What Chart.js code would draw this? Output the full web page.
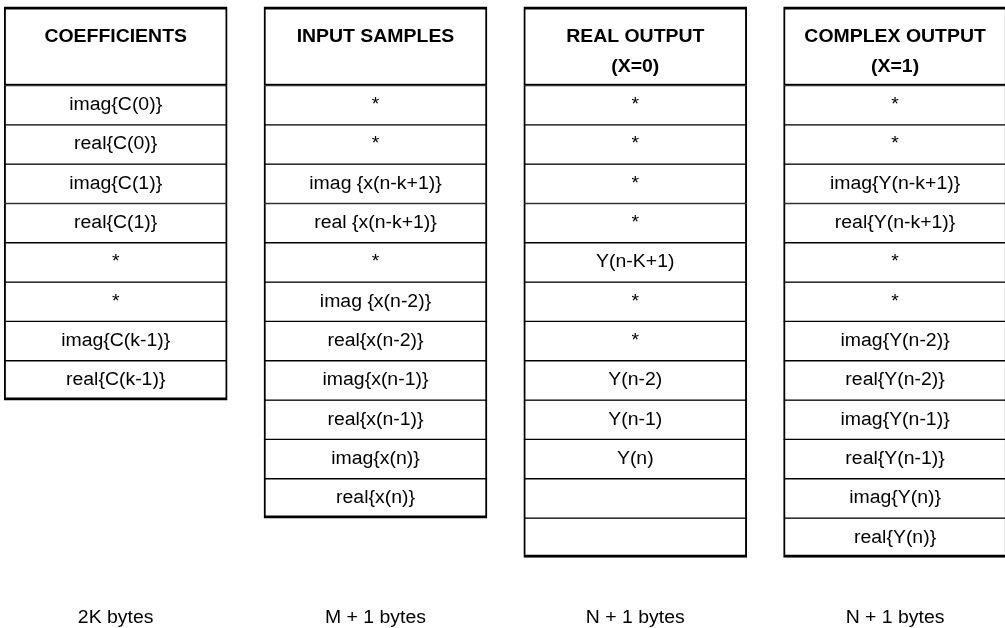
<!DOCTYPE html>
<html>
<head>
<meta charset="utf-8">
<script src="https://cdn.jsdelivr.net/npm/chart.js@4.4.1/dist/chart.umd.min.js"></script>
<style>
  html, body { margin: 0; padding: 0; background: #ffffff; }
  #wrap { width: 1005px; height: 628px; position: relative; }
</style>
</head>
<body>
<div id="wrap"><canvas id="c" width="1005" height="628"></canvas></div>
<script>
// ---- data ----
const columnHeaders = [
  ['COEFFICIENTS'],
  ['INPUT SAMPLES'],
  ['REAL OUTPUT', '(X=0)'],
  ['COMPLEX OUTPUT', '(X=1)']
];
const coefficientCells = ['imag{C(0)}', 'real{C(0)}', 'imag{C(1)}', 'real{C(1)}', '*', '*', 'imag{C(k-1)}', 'real{C(k-1)}'];
const inputCells = ['*', '*', 'imag {x(n-k+1)}', 'real {x(n-k+1)}', '*', 'imag {x(n-2)}', 'real{x(n-2)}', 'imag{x(n-1)}', 'real{x(n-1)}', 'imag{x(n)}', 'real{x(n)}'];
const realOutputCells = ['*', '*', '*', '*', 'Y(n-K+1)', '*', '*', 'Y(n-2)', 'Y(n-1)', 'Y(n)', '', ''];
const complexOutputCells = ['*', '*', 'imag{Y(n-k+1)}', 'real{Y(n-k+1)}', '*', '*', 'imag{Y(n-2)}', 'real{Y(n-2)}', 'imag{Y(n-1)}', 'real{Y(n-1)}', 'imag{Y(n)}', 'real{Y(n)}'];
const sizeLabels = ['2K bytes', 'M + 1 bytes', 'N + 1 bytes', 'N + 1 bytes'];
const headerRows = 2;   // header occupies two row units

const columns = [coefficientCells, inputCells, realOutputCells, complexOutputCells];
const maxRows = Math.max(...columns.map(c => c.length));

// ---- datasets: header + one per memory row ----
const datasets = [];
datasets.push({
  label: 'header',
  data: columns.map((c, i) => ({ x: i, y: [0, headerRows], text: columnHeaders[i], header: true })),
  backgroundColor: '#ffffff',
  borderColor: '#000000',
  borderWidth: { top: 3, bottom: 2, left: 2, right: 2 },
  borderSkipped: false
});
for (let r = 0; r < maxRows; r++) {
  const data = [];
  columns.forEach((cells, i) => {
    if (r < cells.length) {
      data.push({ x: i, y: [headerRows + r, headerRows + r + 1], text: cells[r], last: r === cells.length - 1 });
    }
  });
  datasets.push({
    label: 'row' + r,
    data: data,
    backgroundColor: '#ffffff',
    borderColor: '#000000',
    borderWidth: ctx => ({ top: 1, bottom: (ctx.raw && ctx.raw.last) ? 3 : 1, left: 2, right: 2 }),
    borderSkipped: false
  });
}

const STRETCH = 1.08;
function drawText(ctx, txt, x, y, font) {
  ctx.save();
  ctx.font = font;
  ctx.translate(x, y);
  ctx.scale(STRETCH, 1);
  ctx.fillText(txt, 0, 0);
  ctx.restore();
}

const cellText = {
  id: 'cellText',
  afterDatasetsDraw(chart) {
    const ctx = chart.ctx;
    const xs = chart.scales.x, ys = chart.scales.y;
    ctx.save();
    ctx.fillStyle = '#000000';
    ctx.textAlign = 'center';
    ctx.textBaseline = 'middle';
    chart.data.datasets.forEach(ds => {
      ds.data.forEach(d => {
        const cx = xs.getPixelForValue(d.x);
        if (d.header) {
          const lineY = [0.76, 1.53];
          d.text.forEach((t, k) => drawText(ctx, t, cx, ys.getPixelForValue(lineY[k]), 'bold 18px "Liberation Sans", Arial, sans-serif'));
        } else if (d.text) {
          const cy = ys.getPixelForValue((d.y[0] + d.y[1]) / 2);
          drawText(ctx, d.text, cx, cy, '18px "Liberation Sans", Arial, sans-serif');
        }
      });
    });
    sizeLabels.forEach((t, i) => {
      drawText(ctx, t, xs.getPixelForValue(i), ys.getPixelForValue(15.54), '18px "Liberation Sans", Arial, sans-serif');
    });
    ctx.restore();
  }
};

new Chart(document.getElementById('c'), {
  type: 'bar',
  data: { datasets },
  options: {
    responsive: false,
    animation: false,
    parsing: { xAxisKey: 'x', yAxisKey: 'y' },
    layout: { padding: 0 },
    datasets: { bar: { grouped: false, barThickness: 223 } },
    plugins: { legend: { display: false }, tooltip: { enabled: false }, title: { display: false } },
    scales: {
      x: { type: 'linear', display: false, offset: false, grid: { offset: false }, min: -0.4453, max: 3.4231, ticks: { includeBounds: false, stepSize: 1 } },
      y: { type: 'linear', display: false, reverse: true, min: -0.173, max: 15.794 }
    }
  },
  plugins: [cellText]
});
</script>
</body>
</html>
